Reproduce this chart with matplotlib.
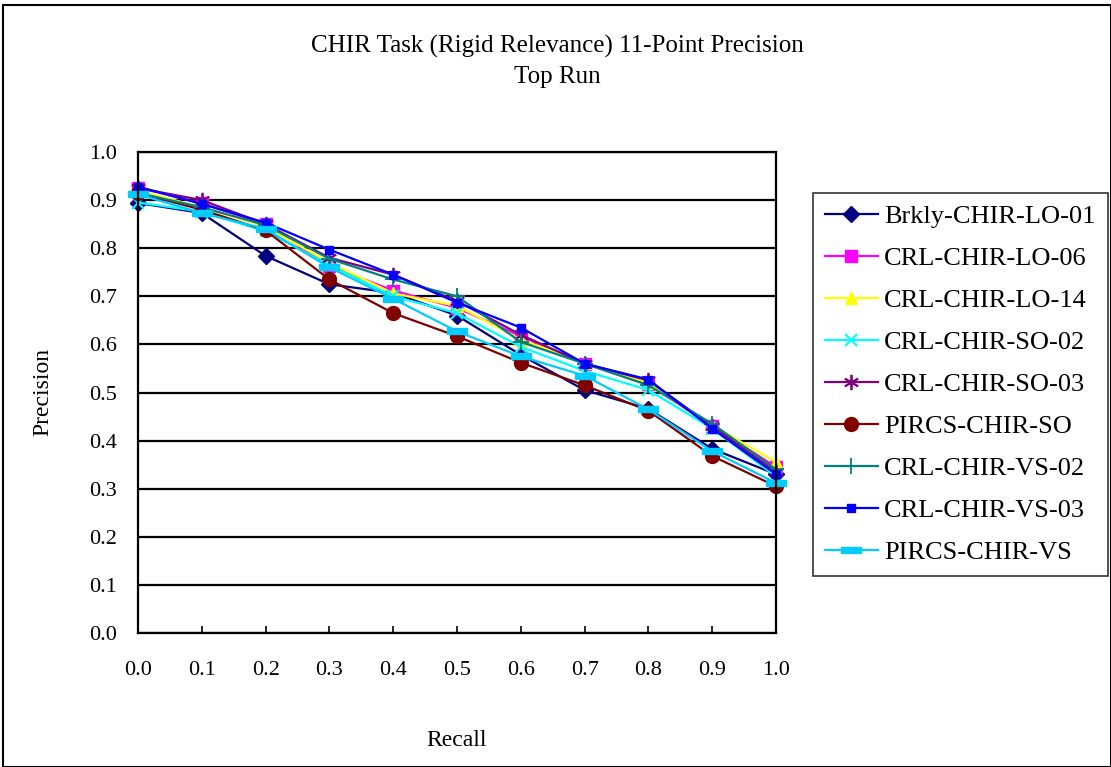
import matplotlib
matplotlib.use("Agg")
import matplotlib.pyplot as plt
from matplotlib.patches import Rectangle

plt.rcParams['font.family'] = ['Liberation Serif', 'DejaVu Serif']

recall = [0.0, 0.1, 0.2, 0.3, 0.4, 0.5, 0.6, 0.7, 0.8, 0.9, 1.0]
x_ticklabels = ["0.0", "0.1", "0.2", "0.3", "0.4", "0.5", "0.6", "0.7", "0.8", "0.9", "1.0"]
y_ticks = [0.0, 0.1, 0.2, 0.3, 0.4, 0.5, 0.6, 0.7, 0.8, 0.9, 1.0]

series_names = ["Brkly-CHIR-LO-01", "CRL-CHIR-LO-06", "CRL-CHIR-LO-14", "CRL-CHIR-SO-02",
                "CRL-CHIR-SO-03", "PIRCS-CHIR-SO", "CRL-CHIR-VS-02", "CRL-CHIR-VS-03",
                "PIRCS-CHIR-VS"]

brkly_lo_01 = [0.894, 0.873, 0.784, 0.725, 0.707, 0.660, 0.578, 0.505, 0.466, 0.383, 0.330]
crl_lo_06 = [0.926, 0.893, 0.850, 0.763, 0.712, 0.676, 0.617, 0.560, 0.518, 0.430, 0.345]
crl_lo_14 = [0.920, 0.885, 0.845, 0.770, 0.706, 0.680, 0.610, 0.562, 0.520, 0.432, 0.355]
crl_so_02 = [0.895, 0.876, 0.835, 0.765, 0.700, 0.665, 0.595, 0.545, 0.505, 0.425, 0.325]
crl_so_03 = [0.925, 0.900, 0.850, 0.780, 0.745, 0.690, 0.620, 0.560, 0.525, 0.430, 0.335]
pircs_so = [0.915, 0.880, 0.837, 0.735, 0.665, 0.617, 0.562, 0.515, 0.462, 0.368, 0.305]
crl_vs_02 = [0.915, 0.885, 0.848, 0.778, 0.735, 0.700, 0.605, 0.560, 0.515, 0.435, 0.340]
crl_vs_03 = [0.928, 0.892, 0.853, 0.797, 0.745, 0.687, 0.635, 0.560, 0.527, 0.425, 0.330]
pircs_vs = [0.912, 0.873, 0.840, 0.760, 0.695, 0.627, 0.575, 0.535, 0.465, 0.378, 0.312]

all_series = [brkly_lo_01, crl_lo_06, crl_lo_14, crl_so_02, crl_so_03, pircs_so,
              crl_vs_02, crl_vs_03, pircs_vs]

dash = [(-1, -0.35), (1, -0.35), (1, 0.35), (-1, 0.35), (-1, -0.35)]
styles = [
    dict(color="#000080", marker="D", ms=8),
    dict(color="#FF00FF", marker="s", ms=9),
    dict(color="#FFFF00", marker="^", ms=9),
    dict(color="#00FFFF", marker="x", ms=9, mew=1.5),
    dict(color="#800080", marker=(6, 2, 0), ms=11, mew=1.3),
    dict(color="#800000", marker="o", ms=10),
    dict(color="#008080", marker="+", ms=12, mew=1.3),
    dict(color="#0000FF", marker="s", ms=6),
    dict(color="#00CCFF", marker=dash, ms=14),
]

fig = plt.figure(figsize=(11.11, 7.67), dpi=100)
fig.patches.append(Rectangle((0.003, 0.0), 0.997, 0.993, transform=fig.transFigure,
                             fill=False, edgecolor="black", linewidth=1.5))

ax = fig.add_axes([138 / 1111, 1 - 633 / 767, (776 - 138) / 1111, (633 - 152) / 767])
for name, vals, st in zip(series_names, all_series, styles):
    ax.plot(recall, vals, label=name, linewidth=1.6, color=st["color"],
            marker=st["marker"], markersize=st["ms"], markeredgewidth=st.get("mew", 1.0),
            markeredgecolor=st["color"], markerfacecolor=st["color"], clip_on=False)

ax.set_xlim(0, 1)
ax.set_ylim(0, 1)
ax.set_xticks(recall)
ax.set_xticklabels(x_ticklabels)
ax.set_yticks(y_ticks)
ax.set_yticklabels([f"{v:.1f}" for v in y_ticks])
ax.grid(axis="y", color="black", linewidth=1.6)
ax.set_axisbelow(True)
for sp in ax.spines.values():
    sp.set_linewidth(1.6)
ax.tick_params(axis="x", direction="in", length=5, width=1.2, labelsize=16, pad=20)
ax.tick_params(axis="y", length=0, labelsize=16, pad=15)

ax.set_xlabel("Recall", fontsize=17, labelpad=36)
ax.set_ylabel("Precision", fontsize=17, labelpad=26)

fig.text(557 / 1111, 1 - 46 / 767, "CHIR Task (Rigid Relevance) 11-Point Precision",
         ha="center", va="center", fontsize=18)
fig.text(557 / 1111, 1 - 77 / 767, "Top Run", ha="center", va="center", fontsize=18)

leg = fig.legend(loc="upper left", bbox_to_anchor=(813 / 1111, 1 - 193 / 767),
                 fontsize=19, frameon=True, fancybox=False, edgecolor="black",
                 borderaxespad=0, handlelength=2.0, labelspacing=0.7, borderpad=0.45,
                 handletextpad=0.25)
leg.get_frame().set_linewidth(1.2)

fig.savefig("out.png", dpi=100)
